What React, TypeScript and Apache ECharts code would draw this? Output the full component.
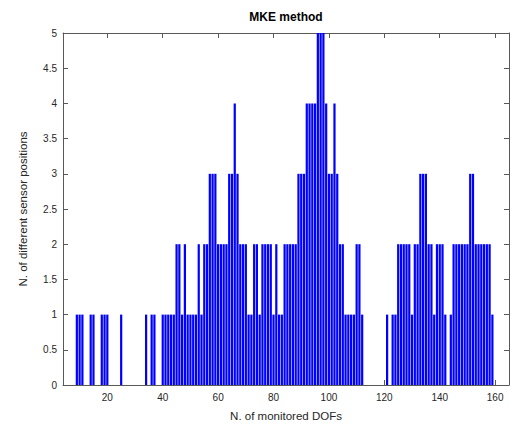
import React, { useEffect, useRef } from 'react';
import * as echarts from 'echarts';

// N. of monitored DOFs (bar positions)
const dofs = [
  9, 10, 11, 14, 15, 18, 19, 20, 25, 34, 36, 37,
  40, 41, 42, 43, 44, 45, 46, 47, 48, 49, 50, 51, 52, 53, 54, 55, 56,
  57, 58, 59, 60, 61, 62, 63, 64, 65, 66, 67, 68, 69, 70, 71, 72, 73, 74,
  75, 76, 77, 78, 79, 80, 81, 82, 83, 84, 85, 86, 87, 88, 89, 90, 91, 92,
  93, 94, 95, 96, 97, 98, 99, 100, 101, 102, 103, 104, 105, 106, 107, 108,
  109, 110, 111, 112,
  121, 123, 124, 125, 126, 127, 128, 129, 130, 131, 132, 133, 134, 135, 136,
  137, 138, 139, 140, 141, 142,
  144, 145, 146, 147, 148, 149, 150, 151, 152, 153, 154, 155, 156, 157, 158, 159,
];

// N. of different sensor positions
const counts = [
  1, 1, 1, 1, 1, 1, 1, 1, 1, 1, 1, 1,
  1, 1, 1, 1, 1, 2, 2, 1, 2, 1, 1, 1, 1, 2, 1, 2, 2,
  3, 3, 3, 2, 2, 2, 2, 3, 3, 4, 3, 2, 2, 2, 1, 1, 2, 2,
  1, 2, 2, 2, 2, 1, 2, 1, 1, 2, 2, 2, 2, 2, 3, 3, 3, 4,
  4, 4, 4, 5, 5, 5, 4, 3, 3, 4, 3, 2, 2, 1, 1, 1,
  1, 2, 2, 1,
  1, 1, 1, 2, 2, 2, 2, 2, 1, 2, 2, 3, 3, 3, 2,
  2, 1, 2, 2, 2, 1,
  1, 2, 2, 2, 2, 2, 2, 3, 3, 2, 2, 2, 2, 2, 2, 1,
];

const xTicks = [20, 40, 60, 80, 100, 120, 140, 160];
const xMin = 4;
const xMax = 165;
const yMin = 0;
const yMax = 5;
const yStep = 0.5;

const titleText = 'MKE method';
const xName = 'N. of monitored DOFs';
const yName = 'N. of different sensor positions';

const FONT = 'Liberation Sans, Arial, Helvetica, sans-serif';
const LINE = '#595959';
const TEXT = '#262626';

export default function App() {
  const ref = useRef<HTMLDivElement>(null);

  useEffect(() => {
    document.body.style.margin = '0';
    const chart = echarts.init(ref.current as HTMLDivElement, undefined, { renderer: 'svg' });
    const data = dofs.map((d, i) => [d, counts[i]]);

    const grid = { left: 63, right: 1, top: 33, bottom: 38 };
    const plotCenterX = grid.left + (510 - grid.left - grid.right) / 2;

    chart.setOption({
      animation: false,
      backgroundColor: '#ffffff',
      grid: { ...grid, containLabel: false },
      graphic: [
        {
          type: 'text',
          x: plotCenterX,
          y: 17,
          style: {
            text: titleText,
            textAlign: 'center',
            textVerticalAlign: 'middle',
            font: `bold 12px ${FONT}`,
            fill: '#000000',
          },
        },
      ],
      xAxis: [
        {
          type: 'value',
          position: 'bottom',
          min: xMin,
          max: xMax,
          name: xName,
          nameLocation: 'middle',
          nameGap: 25,
          nameTextStyle: { fontFamily: FONT, fontSize: 11.5, color: TEXT },
          axisLine: { show: true, onZero: false, lineStyle: { color: LINE, width: 1 } },
          axisTick: { show: true, inside: true, length: 5, customValues: xTicks, lineStyle: { color: LINE } },
          axisLabel: { show: true, customValues: xTicks, fontFamily: FONT, fontSize: 10, color: TEXT, margin: 7 },
          splitLine: { show: false },
        },
        {
          type: 'value',
          position: 'top',
          min: xMin,
          max: xMax,
          axisLine: { show: true, onZero: false, lineStyle: { color: LINE, width: 1 } },
          axisTick: { show: true, inside: true, length: 5, customValues: xTicks, lineStyle: { color: LINE } },
          axisLabel: { show: false },
          splitLine: { show: false },
        },
      ],
      yAxis: [
        {
          type: 'value',
          position: 'left',
          min: yMin,
          max: yMax,
          interval: yStep,
          name: yName,
          nameLocation: 'middle',
          nameGap: 34,
          nameRotate: 90,
          nameTextStyle: { fontFamily: FONT, fontSize: 11.5, color: TEXT },
          axisLine: { show: true, onZero: false, lineStyle: { color: LINE, width: 1 } },
          axisTick: { show: true, inside: true, length: 5, lineStyle: { color: LINE } },
          axisLabel: { show: true, fontFamily: FONT, fontSize: 10, color: TEXT, margin: 6 },
          splitLine: { show: false },
        },
        {
          type: 'value',
          position: 'right',
          min: yMin,
          max: yMax,
          interval: yStep,
          axisLine: { show: true, onZero: false, lineStyle: { color: LINE, width: 1 } },
          axisTick: { show: true, inside: true, length: 5, lineStyle: { color: LINE } },
          axisLabel: { show: false },
          splitLine: { show: false },
        },
      ],
      series: [
        {
          type: 'custom',
          xAxisIndex: 0,
          yAxisIndex: 0,
          data,
          encode: { x: 0, y: 1 },
          renderItem: (params: any, api: any) => {
            const x = api.value(0);
            const y = api.value(1);
            const p0 = api.coord([x - 0.4, 0]);
            const p1 = api.coord([x + 0.4, y]);
            return {
              type: 'rect',
              shape: { x: p0[0], y: p1[1], width: p1[0] - p0[0], height: p0[1] - p1[1] },
              style: { fill: '#0000ff', stroke: null },
            };
          },
        },
      ],
    });

    return () => chart.dispose();
  }, []);

  return <div ref={ref} style={{ width: 510, height: 427 }} />;
}
